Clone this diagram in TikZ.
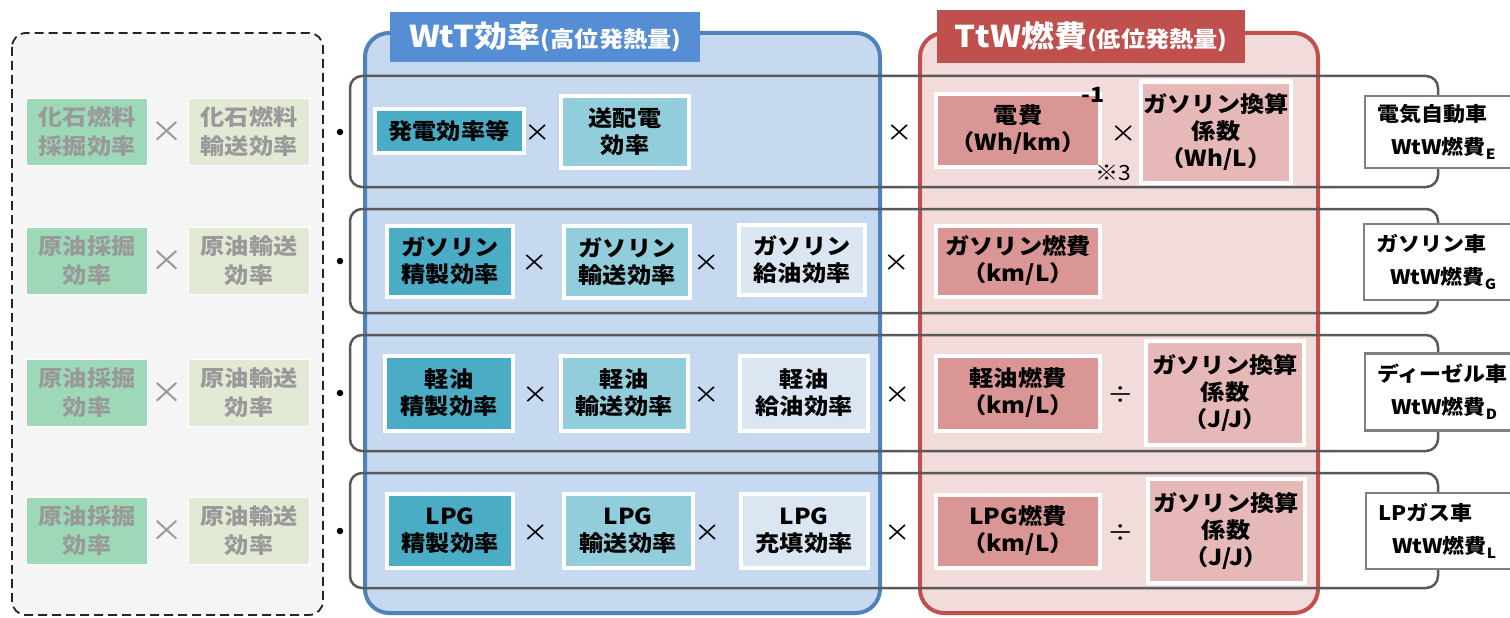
\documentclass[tikz,border=0pt]{standalone}
\usepackage{fontspec}
\setmainfont{Noto Sans CJK JP}[FakeStretch=1.1]
\usetikzlibrary{positioning}
\definecolor{prebg}{HTML}{F5F5F5}
\definecolor{minegreen}{HTML}{9DD9B8}
\definecolor{mineship}{HTML}{E2EAD6}
\definecolor{wttfill}{HTML}{C6D9F0}
\definecolor{wttline}{HTML}{4F81BD}
\definecolor{wtttab}{HTML}{558ED5}
\definecolor{ttwfill}{HTML}{F2DCDB}
\definecolor{ttwline}{HTML}{C0504D}
\definecolor{refine}{HTML}{4BACC6}
\definecolor{transport}{HTML}{92CDDC}
\definecolor{supply}{HTML}{DCE6F2}
\definecolor{fuelcons}{HTML}{DA9694}
\definecolor{convfac}{HTML}{E6B9B8}

\begin{document}
\begin{tikzpicture}[x=1pt,y=-1pt,
    every node/.style={inner sep=0pt, align=center},
    eff/.style={draw=white, line width=4pt, font=\bfseries\fontsize{22}{27}\selectfont},
    pre/.style={draw=white, line width=1pt, text=black!40, minimum width=121pt, minimum height=67pt,
        font=\bfseries\fontsize{22}{29}\selectfont},
    op/.style={font=\fontsize{24}{24}\selectfont},
    tab/.style={anchor=north west, text=white, font=\bfseries\fontsize{30}{30}\selectfont},
    veh/.style={draw=black!50, line width=2.5pt, fill=white, align=left, text width=136pt,
        inner xsep=12pt, font=\bfseries\fontsize{20}{33}\selectfont},
    rowbox/.style={draw=black!65, line width=2.5pt, rounded corners=12pt}]
    \clip (0,0) rectangle (1510,618);
    \filldraw[fill=prebg, draw=black!85, line width=1.8pt, dash pattern=on 9pt off 5pt, rounded corners=14pt]
        (12,33) rectangle (323,615);
    \filldraw[fill=wttfill, draw=wttline, line width=4pt, rounded corners=24pt] (365,33) rectangle (880,613);
    \filldraw[fill=ttwfill, draw=ttwline, line width=4pt, rounded corners=24pt] (920,33) rectangle (1318,613);
    \node[tab, fill=wtttab, minimum width=310pt, minimum height=50pt] (wtt) at (390,12)
        {WtT効率{\fontsize{22}{22}\selectfont(高位発熱量)}};
    \node[tab, fill=ttwline, minimum width=308pt, minimum height=53pt] (ttw) at (937,10)
        {TtW燃費{\fontsize{22}{22}\selectfont(低位発熱量)}};
    \foreach \t/\b in {76/187, 209/313, 335/451, 473/588}
        \draw[rowbox] (350,\t) rectangle (1438,\b);
    \foreach \y/\a/\b [count=\i] in {132/{化石燃料\\採掘効率}/{化石燃料\\輸送効率},
            261/{原油採掘\\効率}/{原油輸送\\効率}, 393/{原油採掘\\効率}/{原油輸送\\効率},
            531/{原油採掘\\効率}/{原油輸送\\効率}}{
        \node[pre, fill=minegreen] (mine\i) at (87,\y) {\a};
        \node[pre, fill=mineship] (ship\i) at (249,\y) {\b};
        \node[op, text=black!40, font=\fontsize{30}{30}\selectfont] (lx\i) at (167,\y) {×};
        \node[circle, fill=black, minimum size=6.5pt] (dot\i) at (340,\y) {};
    }

    \node[eff, fill=refine, minimum width=149pt, minimum height=44pt] (elgen) at (449,131) {発電効率等};
    \node[op] (x11) at (538,133) {×};
    \node[eff, fill=transport, minimum width=128pt, minimum height=72pt] (elgrid) at (625,132) {送配電\\効率};
    \node[op] (x12) at (900,133) {×};
    \node[eff, fill=fuelcons, minimum width=164pt, minimum height=73pt] (elcons) at (1018,130) {電費\\（Wh/km）};
    \node[font=\bfseries\fontsize{21}{21}\selectfont] (inv) at (1093,95) {-1};
    \node[op] (x13) at (1124,134) {×};
    \node[font=\fontsize{21}{21}\selectfont] (note3) at (1113,173) {※3};
    \node[eff, fill=convfac, minimum width=150pt, minimum height=101pt] (elconv) at (1216,132) {ガソリン換算\\係数\\（Wh/L）};
    \node[veh, minimum height=72pt] (ev) at (1445,132)
        {電気自動車\\\hspace*{14pt}WtW燃費\raisebox{-5pt}{\fontsize{14}{14}\selectfont E}};

    \node[eff, fill=refine, minimum width=126pt, minimum height=71pt] (gref) at (450,261) {ガソリン\\精製効率};
    \node[op] (x21) at (535,263) {×};
    \node[eff, fill=transport, minimum width=126pt, minimum height=72pt] (gtra) at (627,262) {ガソリン\\輸送効率};
    \node[op] (x22) at (707,263) {×};
    \node[eff, fill=supply, minimum width=126pt, minimum height=70pt] (gsup) at (802,260) {ガソリン\\給油効率};
    \node[op] (x23) at (897,263) {×};
    \node[eff, fill=fuelcons, minimum width=164pt, minimum height=71pt] (gcons) at (1018,261) {ガソリン燃費\\（km/L）};
    \node[veh, minimum height=76pt] (gv) at (1444,262)
        {ガソリン車\\\hspace*{14pt}WtW燃費\raisebox{-5pt}{\fontsize{14}{14}\selectfont G}};

    \node[eff, fill=refine, minimum width=128pt, minimum height=75pt] (dref) at (449,393) {軽油\\精製効率};
    \node[op] (x31) at (536,395) {×};
    \node[eff, fill=transport, minimum width=127pt, minimum height=75pt] (dtra) at (624,393) {軽油\\輸送効率};
    \node[op] (x32) at (707,395) {×};
    \node[eff, fill=supply, minimum width=128pt, minimum height=75pt] (dsup) at (804,393) {軽油\\給油効率};
    \node[op] (x33) at (898,395) {×};
    \node[eff, fill=fuelcons, minimum width=164pt, minimum height=75pt] (dcons) at (1018,393) {軽油燃費\\（km/L）};
    \node[op] (d3) at (1121,395) {÷};
    \node[eff, fill=convfac, minimum width=158pt, minimum height=104pt] (dconv) at (1225,393) {ガソリン換算\\係数\\（J/J）};
    \node[veh, minimum height=77pt] (dv) at (1445,392)
        {ディーゼル車\\\hspace*{14pt}WtW燃費\raisebox{-5pt}{\fontsize{14}{14}\selectfont D}};

    \node[eff, fill=refine, minimum width=126pt, minimum height=74pt] (lref) at (450,531) {LPG\\精製効率};
    \node[op] (x41) at (536,533) {×};
    \node[eff, fill=transport, minimum width=129pt, minimum height=74pt] (ltra) at (628,531) {LPG\\輸送効率};
    \node[op] (x42) at (708,533) {×};
    \node[eff, fill=supply, minimum width=127pt, minimum height=74pt] (lsup) at (804,531) {LPG\\充填効率};
    \node[op] (x43) at (898,533) {×};
    \node[eff, fill=fuelcons, minimum width=164pt, minimum height=73pt] (lcons) at (1018,531) {LPG燃費\\（km/L）};
    \node[op] (d4) at (1121,533) {÷};
    \node[eff, fill=convfac, minimum width=157pt, minimum height=104pt] (lconv) at (1226,531) {ガソリン換算\\係数\\（J/J）};
    \node[veh, minimum height=76pt] (lv) at (1446,531)
        {LPガス車\\\hspace*{14pt}WtW燃費\raisebox{-5pt}{\fontsize{14}{14}\selectfont L}};
\end{tikzpicture}
\end{document}
